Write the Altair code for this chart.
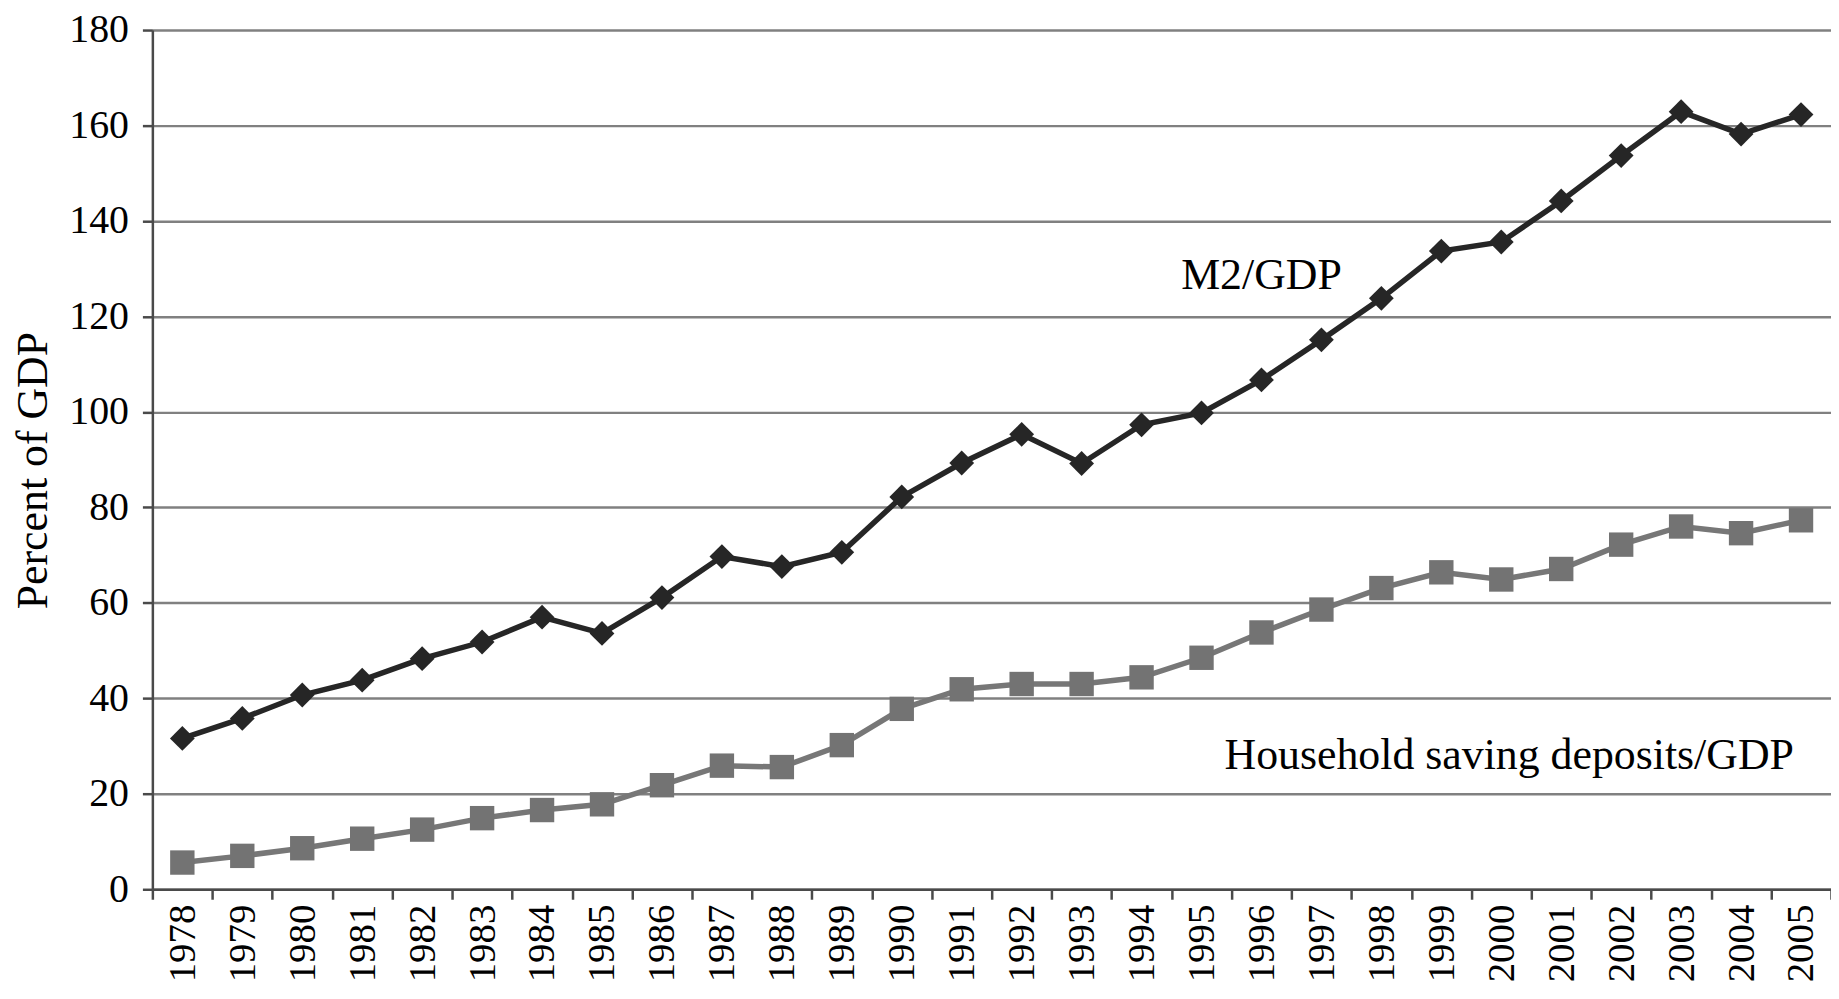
import altair as alt
import pandas as pd

years = [str(y) for y in range(1978, 2006)]
m2_gdp = [31.6, 35.8, 40.7, 43.8, 48.3, 51.8, 57.0, 53.6, 61.1, 69.7,
          67.6, 70.6, 82.2, 89.3, 95.3, 89.2, 97.3, 99.8, 106.7, 115.1,
          123.8, 133.7, 135.6, 144.2, 153.7, 162.9, 158.2, 162.3]
household = [5.6, 7.0, 8.6, 10.6, 12.5, 14.9, 16.6, 17.8, 21.8, 25.9,
             25.6, 30.2, 37.8, 41.9, 43.0, 43.0, 44.4, 48.5, 53.8, 58.6,
             63.1, 66.4, 64.9, 67.1, 72.2, 76.0, 74.6, 77.3]

label_text = ["M2/GDP", "Household saving deposits/GDP"]
label_year = ["1996", "2000"]
label_value = [125.8, 25.2]
label_dx = [0, 8]

FONT = "Liberation Serif"

df_m2 = pd.DataFrame({"year": years, "value": m2_gdp})
df_hh = pd.DataFrame({"year": years, "value": household})
df_lab = pd.DataFrame({"text": label_text, "year": label_year, "value": label_value})

x_enc = alt.X(
    "year:N",
    sort=years,
    bandPosition=0.5,
    scale=alt.Scale(type="band", paddingInner=0, paddingOuter=0),
    axis=alt.Axis(
        title=None,
        labelAngle=-90,
        labelFont=FONT,
        labelFontSize=39,
        labelColor="black",
        labelPadding=5,
        tickBand="extent",
        tickSize=10,
        tickWidth=2.5,
        tickColor="#4a4a4a",
        domainColor="#4a4a4a",
        domainWidth=2.5,
        grid=False,
    ),
)
y_enc = alt.Y(
    "value:Q",
    scale=alt.Scale(domain=[0, 180], nice=False),
    axis=alt.Axis(
        title="Percent of GDP",
        values=list(range(0, 181, 20)),
        labelFont=FONT,
        labelFontSize=40,
        labelColor="black",
        labelPadding=14,
        tickSize=10,
        tickWidth=2.5,
        tickColor="#4a4a4a",
        domainColor="#4a4a4a",
        domainWidth=2.5,
        grid=True,
        gridColor="#808080",
        gridWidth=2.5,
        titleFont=FONT,
        titleFontSize=44,
        titleFontWeight="normal",
        titleColor="black",
        titleAngle=270,
        titleBaseline="alphabetic",
        titleAlign="center",
        titleX=-106,
        titleY=442,
    ),
)

m2_line = alt.Chart(df_m2).mark_line(color="#262626", strokeWidth=5.5).encode(x=x_enc, y=y_enc)
m2_pts = alt.Chart(df_m2).mark_point(
    shape="diamond", filled=True, color="#262626", size=620, opacity=1
).encode(x=x_enc, y=y_enc)

hh_line = alt.Chart(df_hh).mark_line(color="#777777", strokeWidth=5.5).encode(x=x_enc, y=y_enc)
hh_pts = alt.Chart(df_hh).mark_point(
    shape="square", filled=True, color="#737373", size=600, opacity=1
).encode(x=x_enc, y=y_enc)

labels_m2 = alt.Chart(df_lab.iloc[[0]]).mark_text(
    font=FONT, fontSize=44, color="black", align="center", baseline="alphabetic", dx=label_dx[0]
).encode(x=x_enc, y=y_enc, text="text:N")
labels_hh = alt.Chart(df_lab.iloc[[1]]).mark_text(
    font=FONT, fontSize=44, color="black", align="center", baseline="alphabetic", dx=label_dx[1]
).encode(x=x_enc, y=y_enc, text="text:N")

chart = (
    alt.layer(hh_line, hh_pts, m2_line, m2_pts, labels_m2, labels_hh)
    .properties(
        width=1686,
        height=863,
        padding={"left": 145, "top": 20, "right": 0, "bottom": 96},
        autosize=alt.AutoSizeParams(type="none"),
        background="white",
    )
    .configure_view(strokeWidth=0)
)

chart.save("out.html", embed_options={"renderer": "svg", "actions": False})
